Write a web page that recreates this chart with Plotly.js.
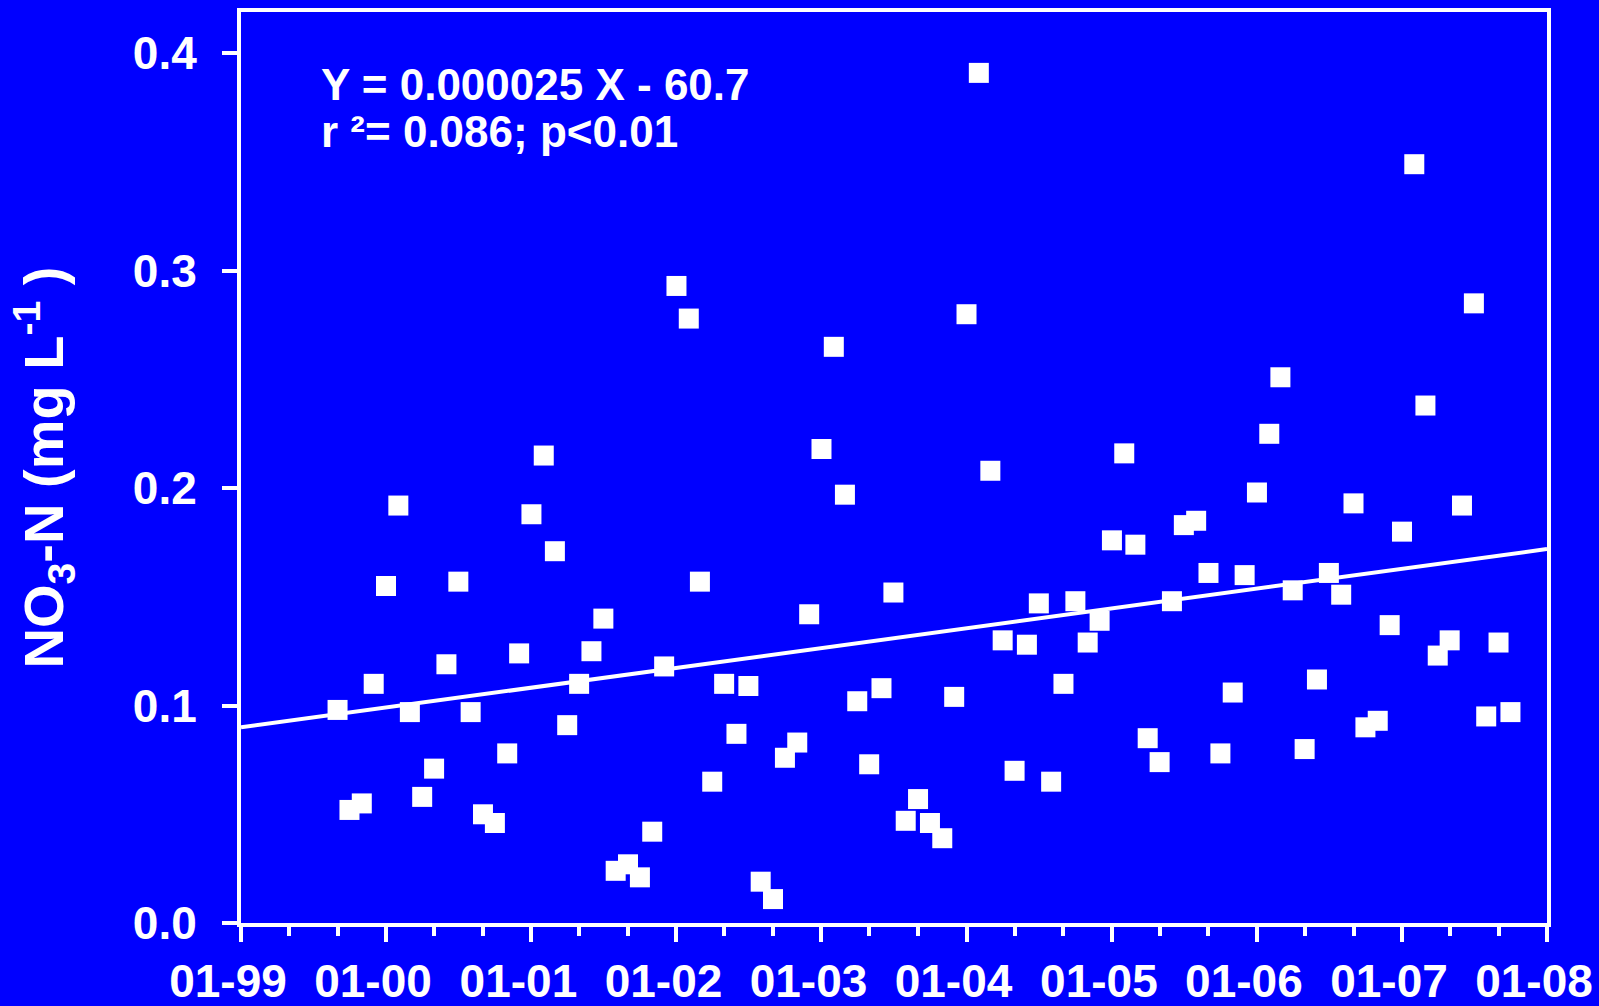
<!DOCTYPE html>
<html>
<head>
<meta charset="utf-8">
<script src="https://cdn.plot.ly/plotly-3.0.1.min.js"></script>
<style>html,body{margin:0;padding:0;background:#0000ff;}#chart{width:1599px;height:1006px;}</style>
</head>
<body>
<div id="chart"></div>
<script>
// Sampling dates (monthly)
var sampleDates = [
 '1999-09-01','1999-10-01','1999-11-01','1999-12-01','2000-01-01',
 '2000-02-01','2000-03-01','2000-04-01','2000-05-01','2000-06-01','2000-07-01','2000-08-01','2000-09-01','2000-10-01','2000-11-01','2000-12-01','2001-01-01',
 '2001-02-01','2001-03-01','2001-04-01','2001-05-01','2001-06-01','2001-07-01','2001-08-01','2001-09-01','2001-10-01','2001-11-01','2001-12-01','2002-01-01',
 '2002-02-01','2002-03-01','2002-04-01','2002-05-01','2002-06-01','2002-07-01','2002-08-01','2002-09-01','2002-10-01','2002-11-01','2002-12-01','2003-01-01',
 '2003-02-01','2003-03-01','2003-04-01','2003-05-01','2003-06-01','2003-07-01','2003-08-01','2003-09-01','2003-10-01','2003-11-01','2003-12-01','2004-01-01',
 '2004-02-01','2004-03-01','2004-04-01','2004-05-01','2004-06-01','2004-07-01','2004-08-01','2004-09-01','2004-10-01','2004-11-01','2004-12-01','2005-01-01',
 '2005-02-01','2005-03-01','2005-04-01','2005-05-01','2005-06-01','2005-07-01','2005-08-01','2005-09-01','2005-10-01','2005-11-01','2005-12-01','2006-01-01',
 '2006-02-01','2006-03-01','2006-04-01','2006-05-01','2006-06-01','2006-07-01','2006-08-01','2006-09-01','2006-10-01','2006-11-01','2006-12-01','2007-01-01',
 '2007-02-01','2007-03-01','2007-04-01','2007-05-01','2007-06-01','2007-07-01','2007-08-01','2007-09-01','2007-10-01'
];
// NO3-N concentrations (mg/L)
var no3Values = [
 0.098,0.052,0.055,0.110,0.155,
 0.192,0.097,0.058,0.071,0.119,0.157,0.097,0.050,0.046,0.078,0.124,0.188,
 0.215,0.171,0.091,0.110,0.125,0.140,0.024,0.027,0.021,0.042,0.118,0.293,
 0.278,0.157,0.065,0.110,0.087,0.109,0.019,0.011,0.076,0.083,0.142,0.218,
 0.265,0.197,0.102,0.073,0.108,0.152,0.047,0.057,0.046,0.039,0.104,0.280,
 0.391,0.208,0.130,0.070,0.128,0.147,0.065,0.110,0.148,0.129,0.139,0.176,
 0.216,0.174,0.085,0.074,0.148,0.183,0.185,0.161,0.078,0.106,0.160,0.198,
 0.225,0.251,0.153,0.080,0.112,0.161,0.151,0.193,0.090,0.093,0.137,0.180,
 0.349,0.238,0.123,0.130,0.192,0.285,0.095,0.129,0.097
];
// Regression line endpoints
var trendDates = ['1999-01-01','2008-01-01'];
var trendValues = [0.090, 0.172];
// Text
var equationText = 'Y = 0.000025 X - 60.7';
var statsText = 'r \u00b2= 0.086; p&lt;0.01';
var yTitleText = 'NO<sub>3</sub>-N (mg L<sup>-1</sup> )';

var FONT = 'Liberation Sans, Arial, Helvetica, sans-serif';
var WHITE = '#ffffff';
var BLUE = '#0000ff';

var traces = [
  {
    x: trendDates, y: trendValues, type: 'scatter', mode: 'lines',
    line: {color: WHITE, width: 4}, hoverinfo: 'skip', showlegend: false
  },
  {
    x: sampleDates, y: no3Values, type: 'scatter', mode: 'markers',
    marker: {symbol: 'square', size: 20, color: WHITE, line: {width: 0}},
    showlegend: false
  }
];

var layout = {
  width: 1599, height: 1006,
  paper_bgcolor: BLUE, plot_bgcolor: BLUE,
  margin: {l: 241, r: 52, t: 11.5, b: 82.5, pad: 0},
  showlegend: false,
  font: {family: FONT, color: WHITE},
  xaxis: {
    type: 'date',
    range: ['1999-01-01', '2008-01-01'],
    tick0: '1999-01-01', dtick: 'M12', tickformat: '%m-%y',
    ticks: 'outside', ticklen: 15, tickwidth: 4, tickcolor: WHITE,
    showline: true, linewidth: 4, linecolor: WHITE, mirror: true,
    showgrid: false, zeroline: false,
    tickfont: {family: FONT, size: 46, color: WHITE, weight: 'bold'},
    ticklabelshift: -13,
    minor: {dtick: 'M4', ticks: 'outside', ticklen: 9, tickwidth: 4, tickcolor: WHITE, showgrid: false}
  },
  yaxis: {
    range: [0, 0.419],
    tick0: 0, dtick: 0.1, tickformat: '.1f',
    ticks: 'outside', ticklen: 15, tickwidth: 4, tickcolor: WHITE,
    showline: true, linewidth: 4, linecolor: WHITE, mirror: true,
    showgrid: false, zeroline: false,
    tickfont: {family: FONT, size: 46, color: WHITE, weight: 'bold'},
    ticklabelstandoff: 16,
    title: {text: yTitleText, font: {family: FONT, size: 56, color: WHITE, weight: 'bold'}, standoff: 52}
  },
  annotations: [
    {xref: 'paper', yref: 'paper', x: 0.0595, y: 0.9496, xanchor: 'left', yanchor: 'top',
     text: equationText, showarrow: false,
     font: {family: FONT, size: 44, color: WHITE, weight: 'bold'}},
    {xref: 'paper', yref: 'paper', x: 0.0595, y: 0.8977, xanchor: 'left', yanchor: 'top',
     text: statsText, showarrow: false,
     font: {family: FONT, size: 44, color: WHITE, weight: 'bold'}}
  ]
};

Plotly.newPlot('chart', traces, layout, {staticPlot: true, displayModeBar: false});
</script>
</body>
</html>
